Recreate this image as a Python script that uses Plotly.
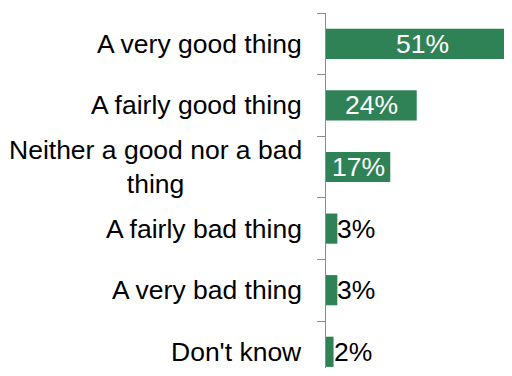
import plotly.graph_objects as go

categories = ["A very good thing", "A fairly good thing", "Neither a good nor a bad<br>thing",
              "A fairly bad thing", "A very bad thing", "Don't know"]
values = [51, 24, 17, 3, 3, 2]
value_labels = ["51%", "24%", "17%", "3%", "3%", "2%"]

BAR = "#2e8256"
FONT = "Arial, Liberation Sans, sans-serif"

fig = go.Figure(go.Bar(
    x=values, y=categories, orientation="h",
    marker=dict(color=BAR, line=dict(width=0)),
    hoverinfo="skip",
))

annotations = []
for cat, v, lab in zip(categories, values, value_labels):
    if v >= 10:
        annotations.append(dict(x=v / 2, y=cat, xref="x", yref="y", text=lab,
                                showarrow=False, xanchor="center", yanchor="middle",
                                font=dict(family=FONT, size=26.5, color="white")))
    else:
        annotations.append(dict(x=v, y=cat, xref="x", yref="y", text=lab,
                                showarrow=False, xanchor="left", yanchor="middle",
                                xshift=-2,
                                font=dict(family=FONT, size=26.5, color="black")))
    annotations.append(dict(x=0, y=cat, xref="paper", yref="y", text=cat,
                            showarrow=False, xanchor="right", yanchor="middle",
                            align="center", xshift=-22,
                            font=dict(family=FONT, size=26.5, color="black")))

# page body has an 8px margin, so the figure is sized to fit inside the window
fig.update_layout(
    autosize=False,
    width=504, height=360,
    margin=dict(l=318, r=0, t=5, b=0),
    paper_bgcolor="white", plot_bgcolor="white",
    bargap=0.51,
    showlegend=False,
    annotations=annotations,
    xaxis=dict(range=[0, 49.2], showgrid=False, zeroline=False, showticklabels=False,
               showline=False, ticks=""),
    yaxis=dict(range=[5.263, -0.5], showgrid=False, zeroline=False, showticklabels=False,
               showline=True, linecolor="#8c8c8c", linewidth=1,
               ticks="outside", ticklen=8, tickcolor="#8c8c8c", tickwidth=1,
               tickson="boundaries"),
)

fig.write_html("out.html", config={"responsive": False})
